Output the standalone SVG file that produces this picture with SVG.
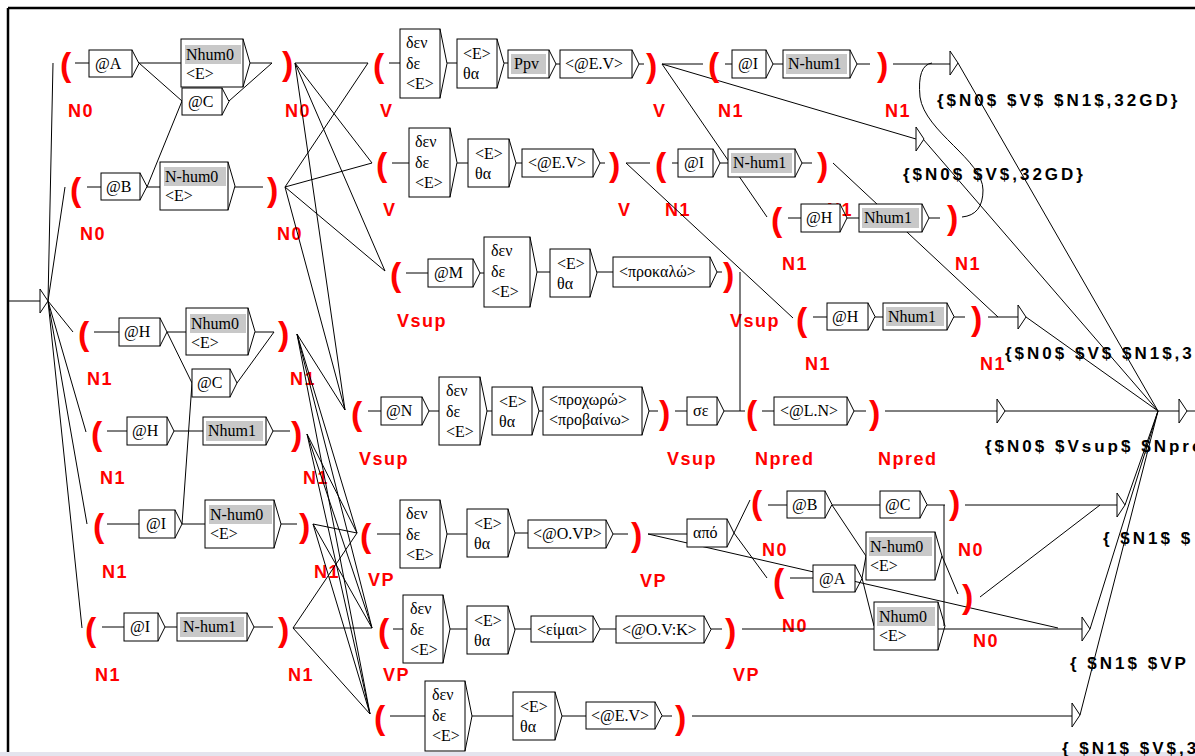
<svg xmlns="http://www.w3.org/2000/svg" width="1195" height="756" viewBox="0 0 1195 756">
<style>
.b{fill:#fff;stroke:#000;stroke-width:1}
.c{fill:none;stroke:#000;stroke-width:1}
.g{fill:#c8c8c8}
.t{font-family:"Liberation Serif",serif;font-size:16px;fill:#000}
.p{font-family:"Liberation Sans",sans-serif;font-size:34px;font-weight:bold;fill:#f00}
.l{font-family:"Liberation Sans",sans-serif;font-size:18px;font-weight:bold;fill:#f00;letter-spacing:1.5px}
.o{font-family:"Liberation Sans",sans-serif;font-size:17px;font-weight:bold;fill:#000;letter-spacing:3px}
.f{fill:#fff;stroke:#000;stroke-width:1}
</style>
<rect x="0" y="0" width="1195" height="756" fill="#fff"/>
<g id="frame">
<line x1="8" y1="8" x2="1195" y2="8" stroke="#000" stroke-width="2.5"/>
<line x1="8" y1="8" x2="8" y2="752" stroke="#000" stroke-width="2.5"/>
<rect x="0" y="752" width="1195" height="4" fill="#e4e4ee"/>
</g>
<g id="labels">
<text class="l" x="68" y="117">N0</text><text class="l" x="285" y="117">N0</text>
<text class="l" x="80" y="240">N0</text><text class="l" x="277" y="240">N0</text>
<text class="l" x="87" y="385">N1</text><text class="l" x="290" y="385">N1</text>
<text class="l" x="100" y="484">N1</text><text class="l" x="303" y="484">N1</text>
<text class="l" x="102" y="578">N1</text><text class="l" x="314" y="578">N1</text>
<text class="l" x="95" y="681">N1</text><text class="l" x="288" y="681">N1</text>
<text class="l" x="380" y="117">V</text><text class="l" x="653" y="117">V</text>
<text class="l" x="383" y="216">V</text><text class="l" x="618" y="216">V</text>
<text class="l" x="718" y="117">N1</text><text class="l" x="885" y="117">N1</text>
<text class="l" x="665" y="216">N1</text><text class="l" x="827" y="216">N1</text>
<text class="l" x="782" y="270">N1</text><text class="l" x="955" y="270">N1</text>
<text class="l" x="397" y="327">Vsup</text><text class="l" x="730" y="327">Vsup</text>
<text class="l" x="805" y="370">N1</text><text class="l" x="980" y="370">N1</text>
<text class="l" x="359" y="465">Vsup</text><text class="l" x="667" y="465">Vsup</text>
<text class="l" x="755" y="465">Npred</text><text class="l" x="878" y="465">Npred</text>
<text class="l" x="368" y="586">VP</text><text class="l" x="640" y="587">VP</text>
<text class="l" x="762" y="556">N0</text><text class="l" x="958" y="556">N0</text>
<text class="l" x="782" y="632">N0</text><text class="l" x="973" y="647">N0</text>
<text class="l" x="383" y="681">VP</text><text class="l" x="733" y="681">VP</text>
</g>
<g id="outputs">
<text class="o" x="937" y="106">{$N0$ $V$ $N1$,32GD}</text>
<text class="o" x="903" y="180">{$N0$ $V$,32GD}</text>
<text class="o" x="1005" y="359">{$N0$ $V$ $N1$,3</text>
<text class="o" x="985" y="452">{$N0$ $Vsup$ $Npre</text>
<text class="o" x="1103" y="544">{ $N1$ $</text>
<text class="o" x="1070" y="669">{ $N1$ $VP</text>
<text class="o" x="1062" y="754">{ $N1$ $V$,3</text>
</g>
<g id="connectors" class="c">
<path d="M8,301H40"/>
<path d="M48,301L53,63M48,301L65,187M48,301L73,332M48,301L86,432M48,301L87,524M48,301L82,628"/>
<path d="M75,63H89M139,63H181M139,63L182,101M250,63H272M229,101L272,63"/>
<path d="M87,187H101M147,187H160M147,187L182,101M235,187H263"/>
<path d="M94,332H119M167,332H186M167,332L192,383M255,332H274M237,383L274,332"/>
<path d="M107,431H127M174,431H203M273,431H290"/>
<path d="M107,524H139M182,524H205M182,524L192,383M281,524H297"/>
<path d="M102,627H124M165,627H177M254,627H273"/>
<path d="M295,63H368M285,187L368,63M295,63L372,163M285,187L372,163M295,63L385,271M285,187L385,271M295,63L345,410M285,187L345,410M297,334L345,410"/>
<path d="M297,334L357,533M297,334L372,628M297,334L370,714M307,434L357,533M307,434L372,628M307,434L370,714M313,524L357,533M313,524L372,628M313,524L370,714M293,628L357,533M293,628H372M293,628L370,714"/>
<path d="M389,63H400M447,63H457M504,63H508M556,64H560M639,64H644M662,64H703M662,64L767,217M662,64L916,139"/>
<path d="M725,64H732M773,64H783M857,64H870M893,64H950"/>
<path d="M392,163H409M457,163H468M516,163H522M600,163H605M626,163H650M626,163L793,318"/>
<path d="M672,163H678M720,163H728M802,163H812M833,163L998,317"/>
<path d="M788,218H801M847,218H859M929,218H940M962,217Q983,215 983,190C983,160 925,132 920,97Q917,65 932,63"/>
<path d="M813,317H827M875,317H883M954,317H965M988,317H1018"/>
<path d="M406,273H428M480,273H484M537,272H550M597,272H613M717,272H722M740,272V411"/>
<path d="M368,411H381M429,411H439M487,411H492M539,411H543M649,411H658M675,411H687M724,411H745M762,411H774M854,411H866M885,411H997M1005,411H1179M1187,411H1195"/>
<path d="M958,63L1158,411M923,139L1158,411M1026,317L1158,411M1125,505L1158,411M1090,629L1158,411M1080,715L1158,411"/>
<path d="M377,534H400M447,534H467M515,533H528M613,534H628M648,534H687M648,534L1058,628M734,533L750,500M734,533L767,578"/>
<path d="M768,505H787M832,505H880M832,505L866,556M927,505H945M965,505H1117"/>
<path d="M790,578H813M862,578L866,556M862,578L874,626M942,556L958,594M944,626V505M980,597L1100,505"/>
<path d="M393,629H403M450,629H467M515,629H531M600,629H616M711,629H722M742,629H1082"/>
<path d="M390,716H425M472,716H513M562,716H586M662,716H672M692,716H1072"/>
</g>
<g id="finals">
<polygon class="f" points="40,289 48,301 40,313"/>
<polygon class="f" points="950,51 958,63 950,75"/>
<polygon class="f" points="916,127 924,139 916,151"/>
<polygon class="f" points="1018,305 1026,317 1018,329"/>
<polygon class="f" points="997,399 1005,411 997,423"/>
<polygon class="f" points="1117,493 1125,505 1117,517"/>
<polygon class="f" points="1082,617 1090,629 1082,641"/>
<polygon class="f" points="1072,703 1080,715 1072,727"/>
<polygon class="f" points="1179,399 1187,411 1179,423"/>
</g>
<g id="parens">
<text class="p" x="60" y="76">(</text><text class="p" x="282" y="75">)</text>
<text class="p" x="70" y="201">(</text><text class="p" x="267" y="201">)</text>
<text class="p" x="78" y="345">(</text><text class="p" x="278" y="345">)</text>
<text class="p" x="91" y="445">(</text><text class="p" x="291" y="445">)</text>
<text class="p" x="93" y="537">(</text><text class="p" x="299" y="537">)</text>
<text class="p" x="85" y="641">(</text><text class="p" x="278" y="641">)</text>
<text class="p" x="373" y="77">(</text><text class="p" x="646" y="77">)</text>
<text class="p" x="376" y="176">(</text><text class="p" x="609" y="176">)</text>
<text class="p" x="390" y="286">(</text><text class="p" x="723" y="286">)</text>
<text class="p" x="351" y="425">(</text><text class="p" x="659" y="424">)</text>
<text class="p" x="708" y="76">(</text><text class="p" x="877" y="76">)</text>
<text class="p" x="655" y="176">(</text><text class="p" x="817" y="176">)</text>
<text class="p" x="771" y="231">(</text><text class="p" x="947" y="229">)</text>
<text class="p" x="796" y="331">(</text><text class="p" x="971" y="330">)</text>
<text class="p" x="746" y="424">(</text><text class="p" x="869" y="424">)</text>
<text class="p" x="360" y="547">(</text><text class="p" x="631" y="546">)</text>
<text class="p" x="751" y="514">(</text><text class="p" x="949" y="514">)</text>
<text class="p" x="773" y="592">(</text><text class="p" x="962" y="608">)</text>
<text class="p" x="378" y="642">(</text><text class="p" x="725" y="642">)</text>
<text class="p" x="374" y="729">(</text><text class="p" x="675" y="729">)</text>
</g>
<g id="A_atA"><rect class="b" x="89" y="50" width="43" height="27"/><path class="c" d="M132,50L139,63.5L132,77"/><text class="t" x="95" y="69">@A</text></g>
<g id="A_Nhum0"><rect class="b" x="181" y="39" width="62" height="48"/><path class="c" d="M243,39L250,63L243,87"/><rect class="g" x="185" y="45" width="56" height="19"/><text class="t" x="186" y="60">Nhum0</text><text class="t" x="186" y="79">&lt;E&gt;</text></g>
<g id="A_atC"><rect class="b" x="182" y="88" width="40" height="27"/><path class="c" d="M222,88L229,101.5L222,115"/><text class="t" x="188" y="107">@C</text></g>
<g id="B_atB"><rect class="b" x="101" y="173" width="39" height="27"/><path class="c" d="M140,173L147,186.5L140,200"/><text class="t" x="106" y="192">@B</text></g>
<g id="B_Nhum0"><rect class="b" x="160" y="162" width="68" height="48"/><path class="c" d="M228,162L235,186L228,210"/><rect class="g" x="164" y="167" width="62" height="19"/><text class="t" x="165" y="182">N-hum0</text><text class="t" x="165" y="201">&lt;E&gt;</text></g>
<g id="C_atH"><rect class="b" x="119" y="318" width="41" height="28"/><path class="c" d="M160,318L167,332L160,346"/><text class="t" x="124" y="337">@H</text></g>
<g id="C_Nhum0"><rect class="b" x="186" y="308" width="62" height="47"/><path class="c" d="M248,308L255,331.5L248,355"/><rect class="g" x="190" y="314" width="56" height="19"/><text class="t" x="191" y="329">Nhum0</text><text class="t" x="191" y="348">&lt;E&gt;</text></g>
<g id="C_atC"><rect class="b" x="192" y="369" width="38" height="28"/><path class="c" d="M230,369L237,383L230,397"/><text class="t" x="197" y="388">@C</text></g>
<g id="D_atH"><rect class="b" x="127" y="417" width="40" height="28"/><path class="c" d="M167,417L174,431L167,445"/><text class="t" x="132" y="436">@H</text></g>
<g id="D_Nhum1"><rect class="b" x="203" y="417" width="63" height="28"/><path class="c" d="M266,417L273,431L266,445"/><rect class="g" x="206" y="421" width="57" height="20"/><text class="t" x="208" y="436">Nhum1</text></g>
<g id="E_atI"><rect class="b" x="139" y="510" width="36" height="28"/><path class="c" d="M175,510L182,524L175,538"/><text class="t" x="146" y="529">@I</text></g>
<g id="E_Nhum0"><rect class="b" x="205" y="500" width="69" height="48"/><path class="c" d="M274,500L281,524L274,548"/><rect class="g" x="209" y="505" width="63" height="19"/><text class="t" x="210" y="520">N-hum0</text><text class="t" x="210" y="539">&lt;E&gt;</text></g>
<g id="F_atI"><rect class="b" x="124" y="613" width="34" height="28"/><path class="c" d="M158,613L165,627L158,641"/><text class="t" x="130" y="632">@I</text></g>
<g id="F_Nhum1"><rect class="b" x="177" y="613" width="70" height="28"/><path class="c" d="M247,613L254,627L247,641"/><rect class="g" x="180" y="617" width="64" height="20"/><text class="t" x="183" y="632">N-hum1</text></g>
<g id="V1_neg"><rect class="b" x="400" y="29" width="40" height="69"/><path class="c" d="M440,29L447,63.5L440,98"/><text class="t" x="406" y="48">δεν</text><text class="t" x="406" y="69">δε</text><text class="t" x="406" y="89">&lt;E&gt;</text></g>
<g id="V1_fut"><rect class="b" x="457" y="39" width="40" height="49"/><path class="c" d="M497,39L504,63.5L497,88"/><text class="t" x="463" y="59">&lt;E&gt;</text><text class="t" x="463" y="79">θα</text></g>
<g id="V1_Ppv"><rect class="b" x="508" y="50" width="41" height="28"/><path class="c" d="M549,50L556,64L549,78"/><rect class="g" x="511" y="54" width="35" height="20"/><text class="t" x="514" y="69">Ppv</text></g>
<g id="V1_verb"><rect class="b" x="560" y="50" width="72" height="28"/><path class="c" d="M632,50L639,64L632,78"/><text class="t" x="565" y="69">&lt;@E.V&gt;</text></g>
<g id="N1a_atI"><rect class="b" x="732" y="50" width="34" height="28"/><path class="c" d="M766,50L773,64L766,78"/><text class="t" x="738" y="69">@I</text></g>
<g id="N1a_Nhum1"><rect class="b" x="783" y="50" width="67" height="28"/><path class="c" d="M850,50L857,64L850,78"/><rect class="g" x="786" y="54" width="61" height="20"/><text class="t" x="788" y="69">N-hum1</text></g>
<g id="V2_neg"><rect class="b" x="409" y="128" width="41" height="69"/><path class="c" d="M450,128L457,162.5L450,197"/><text class="t" x="415" y="147">δεν</text><text class="t" x="415" y="168">δε</text><text class="t" x="415" y="188">&lt;E&gt;</text></g>
<g id="V2_fut"><rect class="b" x="468" y="139" width="41" height="48"/><path class="c" d="M509,139L516,163L509,187"/><text class="t" x="475" y="159">&lt;E&gt;</text><text class="t" x="475" y="179">θα</text></g>
<g id="V2_verb"><rect class="b" x="522" y="149" width="71" height="28"/><path class="c" d="M593,149L600,163L593,177"/><text class="t" x="528" y="168">&lt;@E.V&gt;</text></g>
<g id="N1b_atI"><rect class="b" x="678" y="149" width="35" height="28"/><path class="c" d="M713,149L720,163L713,177"/><text class="t" x="684" y="168">@I</text></g>
<g id="N1b_Nhum1"><rect class="b" x="728" y="149" width="67" height="28"/><path class="c" d="M795,149L802,163L795,177"/><rect class="g" x="731" y="153" width="61" height="20"/><text class="t" x="733" y="168">N-hum1</text></g>
<g id="N1c_atH"><rect class="b" x="801" y="204" width="39" height="28"/><path class="c" d="M840,204L847,218L840,232"/><text class="t" x="806" y="223">@H</text></g>
<g id="N1c_Nhum1"><rect class="b" x="859" y="204" width="63" height="28"/><path class="c" d="M922,204L929,218L922,232"/><rect class="g" x="862" y="208" width="57" height="20"/><text class="t" x="864" y="223">Nhum1</text></g>
<g id="N1d_atH"><rect class="b" x="827" y="303" width="41" height="27"/><path class="c" d="M868,303L875,316.5L868,330"/><text class="t" x="832" y="322">@H</text></g>
<g id="N1d_Nhum1"><rect class="b" x="883" y="303" width="64" height="27"/><path class="c" d="M947,303L954,316.5L947,330"/><rect class="g" x="886" y="307" width="58" height="19"/><text class="t" x="888" y="322">Nhum1</text></g>
<g id="VsM_atM"><rect class="b" x="428" y="259" width="45" height="28"/><path class="c" d="M473,259L480,273L473,287"/><text class="t" x="434" y="278">@M</text></g>
<g id="VsM_neg"><rect class="b" x="484" y="237" width="46" height="70"/><path class="c" d="M530,237L537,272L530,307"/><text class="t" x="491" y="256">δεν</text><text class="t" x="491" y="277">δε</text><text class="t" x="491" y="297">&lt;E&gt;</text></g>
<g id="VsM_fut"><rect class="b" x="550" y="249" width="40" height="48"/><path class="c" d="M590,249L597,273L590,297"/><text class="t" x="557" y="269">&lt;E&gt;</text><text class="t" x="557" y="289">θα</text></g>
<g id="VsM_verb"><rect class="b" x="613" y="257" width="97" height="30"/><path class="c" d="M710,257L717,272L710,287"/><text class="t" x="619" y="277">&lt;προκαλώ&gt;</text></g>
<g id="VsN_atN"><rect class="b" x="381" y="397" width="41" height="28"/><path class="c" d="M422,397L429,411L422,425"/><text class="t" x="386" y="416">@N</text></g>
<g id="VsN_neg"><rect class="b" x="439" y="377" width="41" height="68"/><path class="c" d="M480,377L487,411L480,445"/><text class="t" x="446" y="396">δεν</text><text class="t" x="446" y="417">δε</text><text class="t" x="446" y="437">&lt;E&gt;</text></g>
<g id="VsN_fut"><rect class="b" x="492" y="387" width="40" height="48"/><path class="c" d="M532,387L539,411L532,435"/><text class="t" x="499" y="407">&lt;E&gt;</text><text class="t" x="499" y="427">θα</text></g>
<g id="VsN_verb"><rect class="b" x="543" y="387" width="99" height="48"/><path class="c" d="M642,387L649,411L642,435"/><text class="t" x="549" y="405">&lt;προχωρώ&gt;</text><text class="t" x="549" y="425">&lt;προβαίνω&gt;</text></g>
<g id="VsN_se"><rect class="b" x="687" y="397" width="30" height="28"/><path class="c" d="M717,397L724,411L717,425"/><text class="t" x="693" y="416">σε</text></g>
<g id="Npred_LN"><rect class="b" x="774" y="397" width="73" height="28"/><path class="c" d="M847,397L854,411L847,425"/><text class="t" x="780" y="416">&lt;@L.N&gt;</text></g>
<g id="VP1_neg"><rect class="b" x="400" y="500" width="40" height="68"/><path class="c" d="M440,500L447,534L440,568"/><text class="t" x="406" y="519">δεν</text><text class="t" x="406" y="540">δε</text><text class="t" x="406" y="560">&lt;E&gt;</text></g>
<g id="VP1_fut"><rect class="b" x="467" y="509" width="41" height="48"/><path class="c" d="M508,509L515,533L508,557"/><text class="t" x="474" y="529">&lt;E&gt;</text><text class="t" x="474" y="549">θα</text></g>
<g id="VP1_verb"><rect class="b" x="528" y="520" width="78" height="28"/><path class="c" d="M606,520L613,534L606,548"/><text class="t" x="533" y="539">&lt;@O.VP&gt;</text></g>
<g id="VP1_apo"><rect class="b" x="687" y="519" width="40" height="28"/><path class="c" d="M727,519L734,533L727,547"/><text class="t" x="693" y="538">από</text></g>
<g id="N0_atB"><rect class="b" x="787" y="491" width="38" height="27"/><path class="c" d="M825,491L832,504.5L825,518"/><text class="t" x="792" y="510">@B</text></g>
<g id="N0_atC"><rect class="b" x="880" y="491" width="40" height="27"/><path class="c" d="M920,491L927,504.5L920,518"/><text class="t" x="885" y="510">@C</text></g>
<g id="N0_Nhum0a"><rect class="b" x="866" y="532" width="69" height="48"/><path class="c" d="M935,532L942,556L935,580"/><rect class="g" x="869" y="537" width="63" height="19"/><text class="t" x="870" y="552">N-hum0</text><text class="t" x="870" y="571">&lt;E&gt;</text></g>
<g id="N0_atA"><rect class="b" x="813" y="565" width="42" height="27"/><path class="c" d="M855,565L862,578.5L855,592"/><text class="t" x="819" y="584">@A</text></g>
<g id="N0_Nhum0b"><rect class="b" x="874" y="602" width="64" height="48"/><path class="c" d="M938,602L945,626L938,650"/><rect class="g" x="877" y="607" width="58" height="19"/><text class="t" x="879" y="622">Nhum0</text><text class="t" x="879" y="641">&lt;E&gt;</text></g>
<g id="VP2_neg"><rect class="b" x="403" y="595" width="40" height="68"/><path class="c" d="M443,595L450,629L443,663"/><text class="t" x="410" y="614">δεν</text><text class="t" x="410" y="635">δε</text><text class="t" x="410" y="655">&lt;E&gt;</text></g>
<g id="VP2_fut"><rect class="b" x="467" y="606" width="41" height="48"/><path class="c" d="M508,606L515,630L508,654"/><text class="t" x="474" y="626">&lt;E&gt;</text><text class="t" x="474" y="646">θα</text></g>
<g id="VP2_eimai"><rect class="b" x="531" y="616" width="62" height="26"/><path class="c" d="M593,616L600,629L593,642"/><text class="t" x="537" y="635">&lt;είμαι&gt;</text></g>
<g id="VP2_verb"><rect class="b" x="616" y="616" width="88" height="27"/><path class="c" d="M704,616L711,629.5L704,643"/><text class="t" x="622" y="635">&lt;@O.V:K&gt;</text></g>
<g id="V3_neg"><rect class="b" x="425" y="681" width="40" height="70"/><path class="c" d="M465,681L472,716L465,751"/><text class="t" x="432" y="700">δεν</text><text class="t" x="432" y="721">δε</text><text class="t" x="432" y="741">&lt;E&gt;</text></g>
<g id="V3_fut"><rect class="b" x="513" y="692" width="42" height="48"/><path class="c" d="M555,692L562,716L555,740"/><text class="t" x="520" y="712">&lt;E&gt;</text><text class="t" x="520" y="732">θα</text></g>
<g id="V3_verb"><rect class="b" x="586" y="702" width="69" height="27"/><path class="c" d="M655,702L662,715.5L655,729"/><text class="t" x="591" y="721">&lt;@E.V&gt;</text></g>
</svg>
